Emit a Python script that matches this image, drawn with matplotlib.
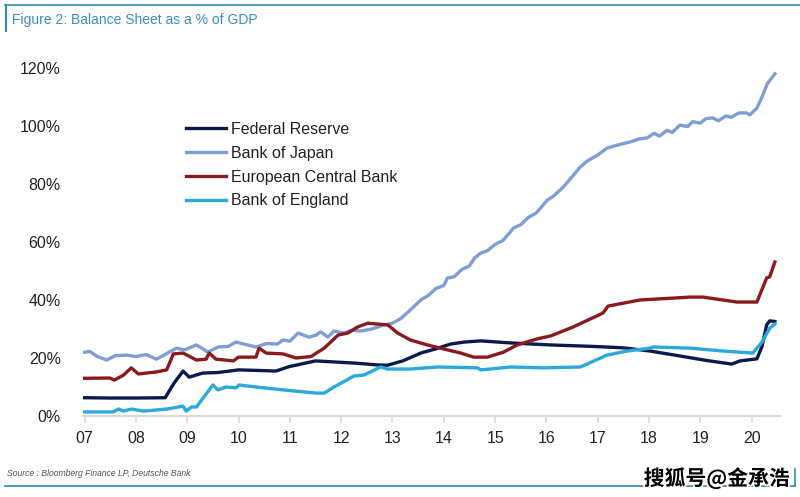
import matplotlib
matplotlib.use("Agg")
import matplotlib.pyplot as plt
from matplotlib.lines import Line2D
import matplotlib.patheffects as pe

plt.rcParams['font.family'] = ['Liberation Sans', 'DejaVu Sans']

# ---------------- data ----------------
fed_x = [2007.0, 2007.5, 2008.0, 2008.57, 2008.75, 2008.92, 2009.04, 2009.3, 2009.6, 2010.0,
         2010.4, 2010.73, 2010.98, 2011.5, 2011.9, 2012.3, 2012.71, 2012.9, 2013.2, 2013.55,
         2013.85, 2014.13, 2014.4, 2014.72, 2015.3, 2016.08, 2016.9, 2017.5, 2018.02, 2018.6,
         2019.1, 2019.61, 2019.77, 2020.1, 2020.2, 2020.29, 2020.35, 2020.45]
fed_y = [6.3, 6.2, 6.2, 6.3, 11.5, 15.5, 13.4, 14.8, 15.0, 15.9,
         15.7, 15.5, 17.0, 19.0, 18.6, 18.2, 17.6, 17.5, 19.0, 21.7,
         23.2, 24.8, 25.5, 25.9, 25.2, 24.5, 24.0, 23.5, 22.4, 20.7,
         19.2, 17.9, 19.0, 19.7, 24.0, 31.4, 32.8, 32.6]

boj_x = [2007.0, 2007.1, 2007.25, 2007.43, 2007.6, 2007.82, 2008.0, 2008.2, 2008.4, 2008.6,
         2008.79, 2008.95, 2009.18, 2009.3, 2009.4, 2009.6, 2009.8, 2009.95, 2010.15, 2010.34,
         2010.55, 2010.75, 2010.87, 2011.0, 2011.16, 2011.37, 2011.5, 2011.6, 2011.74, 2011.86,
         2012.05, 2012.2, 2012.38, 2012.6, 2012.83, 2013.0, 2013.16, 2013.3, 2013.41, 2013.55,
         2013.7, 2013.85, 2014.0, 2014.07, 2014.2, 2014.35, 2014.5, 2014.6, 2014.72, 2014.85,
         2015.0, 2015.15, 2015.36, 2015.5, 2015.65, 2015.8, 2016.02, 2016.15, 2016.33, 2016.5,
         2016.66, 2016.8, 2017.0, 2017.18, 2017.4, 2017.63, 2017.8, 2017.96, 2018.1, 2018.2,
         2018.35, 2018.45, 2018.6, 2018.75, 2018.85, 2019.0, 2019.1, 2019.24, 2019.35, 2019.5,
         2019.6, 2019.75, 2019.9, 2019.96, 2020.1, 2020.2, 2020.3, 2020.45]
boj_y = [22.0, 22.3, 20.5, 19.3, 20.8, 21.0, 20.5, 21.2, 19.6, 21.5,
         23.4, 22.8, 24.5, 23.2, 22.0, 23.8, 24.0, 25.5, 24.6, 23.8,
         25.0, 24.8, 26.2, 25.8, 28.6, 27.2, 27.8, 29.0, 27.2, 29.3,
         28.6, 29.6, 29.3, 30.0, 31.4, 32.0, 33.6, 35.8, 37.6, 40.0,
         41.6, 44.0, 45.0, 47.6, 48.0, 50.5, 51.8, 54.5, 56.2, 57.0,
         59.2, 60.5, 64.8, 66.0, 68.5, 70.0, 74.5, 76.0, 79.0, 82.5,
         85.9, 88.0, 90.0, 92.4, 93.5, 94.5, 95.5, 95.9, 97.5, 96.5,
         98.5, 97.8, 100.3, 99.8, 101.5, 101.0, 102.5, 102.8, 101.8, 103.5,
         103.0, 104.5, 104.5, 103.8, 106.2, 110.0, 114.5, 118.0]

ecb_x = [2007.0, 2007.49, 2007.58, 2007.76, 2007.91, 2008.05, 2008.4, 2008.6, 2008.73, 2008.92,
         2009.18, 2009.37, 2009.43, 2009.56, 2009.9, 2010.0, 2010.34, 2010.4, 2010.54, 2010.87,
         2011.12, 2011.41, 2011.67, 2011.94, 2012.13, 2012.32, 2012.52, 2012.91, 2013.1, 2013.35,
         2013.68, 2014.0, 2014.33, 2014.58, 2014.85, 2015.16, 2015.43, 2015.82, 2016.08, 2016.52,
         2017.1, 2017.2, 2017.82, 2018.8, 2019.05, 2019.71, 2020.1, 2020.29, 2020.35, 2020.45]
ecb_y = [13.0, 13.1, 12.4, 14.1, 16.6, 14.5, 15.2, 15.9, 21.4, 21.7,
         19.3, 19.6, 21.7, 19.6, 19.0, 20.3, 20.3, 23.4, 21.7, 21.4,
         20.0, 20.5, 23.4, 27.9, 28.6, 30.7, 32.0, 31.4, 28.6, 26.2,
         24.5, 23.1, 21.7, 20.3, 20.3, 22.0, 24.5, 26.6, 27.6, 30.7,
         35.5, 37.9, 40.0, 41.0, 41.0, 39.3, 39.3, 47.6, 48.0, 53.1]

boe_x = [2007.0, 2007.56, 2007.66, 2007.76, 2007.91, 2008.15, 2008.6, 2008.92, 2008.98, 2009.08,
         2009.18, 2009.5, 2009.6, 2009.76, 2009.95, 2010.01, 2010.34, 2010.87, 2011.51, 2011.67,
         2011.86, 2012.25, 2012.44, 2012.77, 2012.9, 2013.35, 2013.88, 2014.66, 2014.72, 2015.3,
         2015.94, 2016.66, 2017.18, 2017.57, 2018.02, 2018.08, 2018.8, 2019.44, 2020.02, 2020.2,
         2020.35, 2020.45]
boe_y = [1.4, 1.4, 2.4, 1.7, 2.4, 1.7, 2.4, 3.4, 1.7, 3.1,
         3.1, 10.7, 9.0, 10.0, 9.7, 10.7, 10.0, 9.0, 7.9, 7.9,
         10.0, 13.8, 14.1, 16.9, 16.2, 16.2, 16.9, 16.6, 15.9, 16.9,
         16.6, 16.9, 21.0, 22.4, 23.4, 23.8, 23.4, 22.4, 21.7, 25.5,
         30.3, 31.7]

series_names = ["Federal Reserve", "Bank of Japan", "European Central Bank", "Bank of England"]
year_ticks = list(range(2007, 2021))
year_labels = ["07", "08", "09", "10", "11", "12", "13", "14", "15", "16", "17", "18", "19", "20"]
y_ticks = [0, 20, 40, 60, 80, 100, 120]
y_labels = ["0%", "20%", "40%", "60%", "80%", "100%", "120%"]

colors = ["#0c1a4b", "#7f9ed5", "#8b1a1e", "#2aa9dc"]

# ---------------- figure ----------------
W, H = 800, 497
fig = plt.figure(figsize=(W / 100, H / 100), dpi=100)
ax = fig.add_axes([83 / W, (H - 416) / H, 697 / W, (416 - 53.5) / H])

for (xs, ys), name, c in zip([(fed_x, fed_y), (boj_x, boj_y), (ecb_x, ecb_y), (boe_x, boe_y)],
                             series_names, colors):
    ax.plot(xs, ys, color=c, lw=2.4, label=name, solid_joinstyle='round')

ax.set_xlim(2006.97, 2020.55)
ax.set_ylim(0, 125)
ax.set_xticks(year_ticks)
ax.set_xticklabels(year_labels)
ax.set_yticks(y_ticks)
ax.set_yticklabels(y_labels)

for s in ["top", "right", "left"]:
    ax.spines[s].set_visible(False)
ax.spines["bottom"].set_color("#d9d9d9")
ax.spines["bottom"].set_linewidth(1.5)
ax.tick_params(axis="x", direction="out", length=5, width=1.2, color="#d9d9d9",
               labelsize=11.5, pad=6, labelcolor="#222222")
ax.tick_params(axis="y", length=0, labelsize=11.5, pad=16, labelcolor="#222222")

leg = ax.legend(loc="upper left", bbox_to_anchor=(186 / W, 1 - 122 / H),
                bbox_transform=fig.transFigure, frameon=False, fontsize=11.5,
                handlelength=2.5, handletextpad=0.3, labelspacing=0.55,
                borderpad=0, borderaxespad=0)
for t in leg.get_texts():
    t.set_color("#222222")

# title and frame
teal = "#2b8cb4"
fig.text(12 / W, 1 - 20 / H, "Figure 2: Balance Sheet as a % of GDP", color="#3a8fba",
         fontsize=10, va="center", ha="left")
fig.add_artist(Line2D([5 / W, 1.0], [1 - 5 / H, 1 - 5 / H], color=teal, lw=1.2,
                      transform=fig.transFigure))
fig.add_artist(Line2D([6 / W, 6 / W], [1 - 5 / H, 1 - 31 / H], color=teal, lw=1.5,
                      transform=fig.transFigure))
fig.add_artist(Line2D([5 / W, 795 / W], [1 - 486 / H, 1 - 486 / H], color=teal, lw=1.2,
                      transform=fig.transFigure))
fig.add_artist(Line2D([795 / W, 795 / W], [1 - 469 / H, 1 - 486 / H], color=teal, lw=1.2,
                      transform=fig.transFigure))

fig.text(7 / W, 1 - 473 / H, "Source : Bloomberg Finance LP, Deutsche Bank", color="#555555",
         fontsize=6.2, style="italic", va="center", ha="left")

fig.text(790 / W, 1 - 478 / H, "搜狐号@金承浩", fontsize=15, fontweight="bold", color="black",
         family=["Noto Sans CJK SC", "DejaVu Sans"], ha="right", va="center",
         path_effects=[pe.withStroke(linewidth=2.5, foreground="white")])

fig.savefig("out.png", dpi=100)
